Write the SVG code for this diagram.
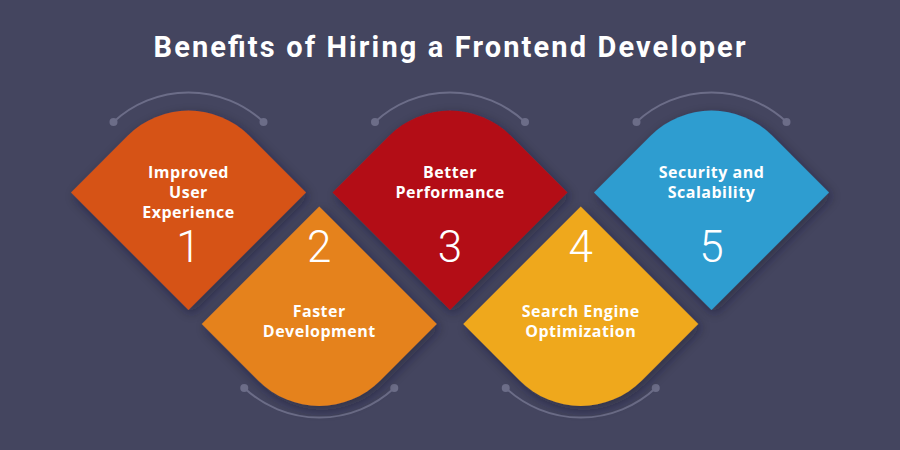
<svg xmlns="http://www.w3.org/2000/svg" width="900" height="450" viewBox="0 0 900 450">
<defs>
<filter id="sh" x="-20%" y="-20%" width="140%" height="140%">
<feDropShadow dx="3" dy="4" stdDeviation="6" flood-color="#1a1a2a" flood-opacity="0.45"/>
</filter>
<style>
.title{font-family:"Roboto","Liberation Sans",sans-serif;font-weight:700;font-size:29px;fill:#fff}
.lbl{font-family:"Open Sans","Liberation Sans",sans-serif;font-weight:700;font-size:16px;letter-spacing:0.5px;fill:#fff;text-anchor:middle}
.num{font-family:"Roboto","Liberation Sans",sans-serif;font-weight:300;font-size:44px;fill:#fff;text-anchor:middle}
.arc{fill:none;stroke:#6c6d88;stroke-width:2}
.dot{fill:#6c6d88}
</style>
</defs>
<rect width="900" height="450" fill="#44455f"/>
<text class="title" x="153.5" y="57" textLength="592" lengthAdjust="spacing">Benefits of Hiring a Frontend Developer</text>
<g id="connectors">
<path class="arc" d="M113.5,122 A110 110 0 0 1 263.5,122"/>
<circle class="dot" cx="113.5" cy="122" r="4"/><circle class="dot" cx="263.5" cy="122" r="4"/>
<path class="arc" d="M244.25,388 A110 110 0 0 0 394.25,388"/>
<circle class="dot" cx="244.25" cy="388" r="4"/><circle class="dot" cx="394.25" cy="388" r="4"/>
<path class="arc" d="M375,122 A110 110 0 0 1 525,122"/>
<circle class="dot" cx="375" cy="122" r="4"/><circle class="dot" cx="525" cy="122" r="4"/>
<path class="arc" d="M505.75,388 A110 110 0 0 0 655.75,388"/>
<circle class="dot" cx="505.75" cy="388" r="4"/><circle class="dot" cx="655.75" cy="388" r="4"/>
<path class="arc" d="M636.5,122 A110 110 0 0 1 786.5,122"/>
<circle class="dot" cx="636.5" cy="122" r="4"/><circle class="dot" cx="786.5" cy="122" r="4"/>
</g>
<g id="node1">
<path filter="url(#sh)" fill="#d65218" d="M71,192.5 L127.7,135.8 A86 86 0 0 1 249.3,135.8 L306,192.5 L188.5,310 Z"/>
<text class="lbl" x="188.5" y="178">Improved</text>
<text class="lbl" x="188.5" y="198">User</text>
<text class="lbl" x="188.5" y="218">Experience</text>
<text class="num" x="188.5" y="262">1</text>
</g>
<g id="node2">
<path filter="url(#sh)" fill="#e5821f" d="M319.25,206.5 L436.75,324 L380.05,380.7 A86 86 0 0 1 258.45,380.7 L201.75,324 Z"/>
<text class="num" x="319.25" y="262">2</text>
<text class="lbl" x="319.25" y="317">Faster</text>
<text class="lbl" x="319.25" y="337">Development</text>
</g>
<g id="node3">
<path filter="url(#sh)" fill="#b30f18" d="M332.5,192.5 L389.2,135.8 A86 86 0 0 1 510.8,135.8 L567.5,192.5 L450,310 Z"/>
<text class="lbl" x="450" y="178">Better</text>
<text class="lbl" x="450" y="198">Performance</text>
<text class="num" x="450" y="262">3</text>
</g>
<g id="node4">
<path filter="url(#sh)" fill="#efa81d" d="M580.75,206.5 L698.25,324 L641.55,380.7 A86 86 0 0 1 519.95,380.7 L463.25,324 Z"/>
<text class="num" x="580.75" y="262">4</text>
<text class="lbl" x="580.75" y="317">Search Engine</text>
<text class="lbl" x="580.75" y="337">Optimization</text>
</g>
<g id="node5">
<path filter="url(#sh)" fill="#2e9dd0" d="M594,192.5 L650.7,135.8 A86 86 0 0 1 772.3,135.8 L829,192.5 L711.5,310 Z"/>
<text class="lbl" x="711.5" y="178">Security and</text>
<text class="lbl" x="711.5" y="198">Scalability</text>
<text class="num" x="711.5" y="262">5</text>
</g>
</svg>
